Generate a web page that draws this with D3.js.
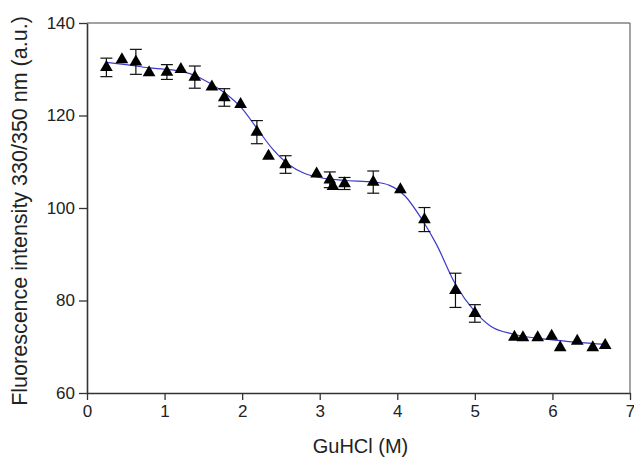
<!DOCTYPE html>
<html>
<meta charset="utf-8">
<head>
    <script src="https://d3js.org/d3.v7.min.js"></script>
<style>
    body { margin: 0; background: #ffffff; }
    text { font-family: "Liberation Sans", Arial, sans-serif; fill: #222; }
    .fit { fill: none; stroke: #3a3acc; stroke-width: 1.2px; }
</style>
</head>
<body>
<div id="chart"></div>
<script>
// measured points (GuHCl in M, fluorescence ratio), error bar half-widths (0 = none)
var guhcl = [0.25, 0.45, 0.63, 0.80, 1.03, 1.21, 1.39, 1.61, 1.77, 1.98, 2.19, 2.34, 2.56, 2.96, 3.13, 3.17, 3.32, 3.69, 4.04, 4.35, 4.75, 5.00, 5.51, 5.62, 5.81, 5.99, 6.10, 6.32, 6.52, 6.68];
var intensity = [130.4, 132.1, 131.6, 129.3, 129.4, 130.0, 128.3, 126.2, 123.9, 122.4, 116.4, 111.2, 109.4, 107.4, 106.1, 104.7, 105.3, 105.6, 104.0, 97.5, 82.2, 77.2, 72.1, 72.0, 72.0, 72.3, 69.8, 71.2, 69.8, 70.3];
var errors = [2.0, 0, 2.7, 0, 1.6, 0, 2.4, 0, 1.9, 0, 2.5, 0, 1.9, 0, 1.7, 0, 1.3, 2.4, 0, 2.6, 3.7, 1.9, 0, 0, 0, 0, 0, 0, 0, 0];

// fitted curve
var fitX = [0.25, 0.5, 0.8, 1.0, 1.2, 1.4, 1.6, 1.8, 2.0, 2.2, 2.4, 2.6, 2.8, 3.0, 3.3, 3.7, 3.9, 4.1, 4.3, 4.5, 4.75, 5.0, 5.2, 5.5, 6.0, 6.3, 6.7];
var fitY = [131.5, 131.0, 130.3, 130.0, 129.6, 128.6, 126.8, 124.6, 121.5, 117.0, 112.6, 109.4, 107.5, 106.6, 106.0, 105.6, 104.9, 102.6, 98.0, 92.3, 83.5, 77.6, 74.5, 72.7, 71.5, 71.0, 70.5];

var xTicks = [0, 1, 2, 3, 4, 5, 6, 7];
var yTicks = [60, 80, 100, 120, 140];

var margin = {top: 23, right: 4, bottom: 64, left: 87},
    width = 634 - margin.left - margin.right,
    height = 457 - margin.top - margin.bottom;

var svg = d3.select("#chart").append("svg")
    .attr("width", 634)
    .attr("height", 457)
  .append("g")
    .attr("transform", "translate(" + margin.left + "," + margin.top + ")");

var x = d3.scaleLinear().domain([0, 7]).range([0, width]);
var y = d3.scaleLinear().domain([60, 140]).range([height, 0]);

// frame on top and right
svg.append("line")
    .attr("x1", 0).attr("x2", width).attr("y1", 0).attr("y2", 0)
    .attr("stroke", "#444").attr("stroke-width", 1.2);
svg.append("line")
    .attr("x1", width).attr("x2", width).attr("y1", 0).attr("y2", height)
    .attr("stroke", "#666").attr("stroke-width", 1.2);

// axes
var xAxis = svg.append("g")
    .attr("transform", "translate(0," + height + ")")
    .call(d3.axisBottom(x).tickValues(xTicks).tickFormat(d3.format("d")).tickSize(7).tickSizeOuter(0).tickPadding(5));
var yAxis = svg.append("g")
    .call(d3.axisLeft(y).tickValues(yTicks).tickFormat(d3.format("d")).tickSize(8).tickSizeOuter(0).tickPadding(4));

[xAxis, yAxis].forEach(function(a) {
    a.select(".domain").attr("stroke", "#333").attr("stroke-width", 1.6);
    a.selectAll(".tick line").attr("stroke", "#333").attr("stroke-width", 1.3);
    a.selectAll(".tick text")
        .style("font-size", "17px")
        .style("font-family", "'Liberation Sans', Arial, sans-serif")
        .attr("fill", "#222");
});

// fitted line
var line = d3.line()
    .x(function(d) { return x(d[0]); })
    .y(function(d) { return y(d[1]); })
    .curve(d3.curveMonotoneX);
svg.append("path")
    .datum(fitX.map(function(v, i) { return [v, fitY[i]]; }))
    .attr("class", "fit")
    .attr("d", line);

// error bars
var pts = guhcl.map(function(v, i) { return {x: v, y: intensity[i], e: errors[i]}; });
var eb = svg.selectAll(".err")
    .data(pts.filter(function(d) { return d.e > 0; }))
    .enter().append("g")
    .attr("stroke", "#111").attr("stroke-width", 1.2);
eb.append("line")
    .attr("x1", function(d) { return x(d.x); }).attr("x2", function(d) { return x(d.x); })
    .attr("y1", function(d) { return y(d.y + d.e); }).attr("y2", function(d) { return y(d.y - d.e); });
eb.append("line")
    .attr("x1", function(d) { return x(d.x) - 6; }).attr("x2", function(d) { return x(d.x) + 6; })
    .attr("y1", function(d) { return y(d.y + d.e); }).attr("y2", function(d) { return y(d.y + d.e); });
eb.append("line")
    .attr("x1", function(d) { return x(d.x) - 6; }).attr("x2", function(d) { return x(d.x) + 6; })
    .attr("y1", function(d) { return y(d.y - d.e); }).attr("y2", function(d) { return y(d.y - d.e); });

// triangles
svg.selectAll(".pt")
    .data(pts)
    .enter().append("path")
    .attr("d", d3.symbol().type(d3.symbolTriangle).size(70))
    .attr("transform", function(d) { return "translate(" + x(d.x) + "," + y(d.y) + ")"; })
    .attr("fill", "#000");

// axis labels
svg.append("text")
    .attr("x", width / 2 + 2)
    .attr("y", height + 60)
    .style("text-anchor", "middle")
    .style("font-size", "20px")
    .text("GuHCl (M)");

svg.append("text")
    .attr("transform", "rotate(-90)")
    .attr("x", -(211 - margin.top))
    .attr("y", -margin.left + 27)
    .style("text-anchor", "middle")
    .style("font-size", "21.5px")
    .text("Fluorescence intensity 330/350 nm (a.u.)");
</script>
</body>
</html>
